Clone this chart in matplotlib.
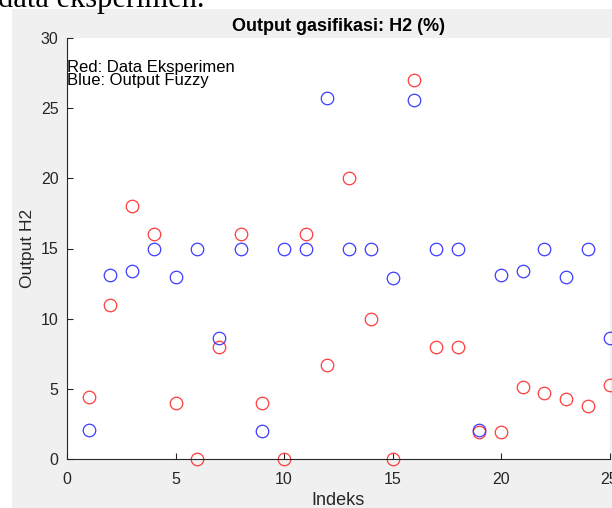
import numpy as np
import matplotlib
matplotlib.use('Agg')
import matplotlib.pyplot as plt
from matplotlib.patches import Rectangle

# data
indeks = list(range(1, 26))
h2_eksperimen = [4.4, 11, 18, 16, 4, 0, 8, 16, 4, 0, 16, 6.7, 20, 10, 0,
                 27, 8, 8, 1.9, 1.9, 5.1, 4.7, 4.3, 3.8, 5.3]
h2_fuzzy = [2.1, 13.1, 13.4, 15, 13, 15, 8.6, 15, 2.0, 15, 15, 25.7, 15, 15, 12.9,
            25.6, 15, 15, 2.1, 13.1, 13.4, 15, 13, 15, 8.6]
xticks = [0, 5, 10, 15, 20, 25]
yticks = [0, 5, 10, 15, 20, 25, 30]

W, H = 612, 508
fig = plt.figure(figsize=(W/100, H/100), dpi=100, facecolor='white')
plt.rcParams['font.family'] = ['Liberation Sans', 'DejaVu Sans']

# latar abu-abu ala MATLAB
fig.patches.append(Rectangle((12/W, 0), 1, (H-9)/H, transform=fig.transFigure,
                             facecolor='#f0f0f0', edgecolor='none', zorder=-10))
# potongan teks dokumen di atas
fig.text(-2/W, (H-7)/H, 'data eksperimen.', family='Liberation Serif', fontsize=22,
         color='black', ha='left', va='baseline', zorder=-5)

ax = fig.add_axes([67/W, (H-459)/H, (609.5-67)/W, (459-38)/H])
ax.set_zorder(1)
ax.set_facecolor('white')
ax.plot(indeks, h2_eksperimen, 'o', mfc='none', mec='#ff3c3c', ms=9, mew=0.9, clip_on=False)
ax.plot(indeks, h2_fuzzy, 'o', mfc='none', mec='#3c3cff', ms=9, mew=0.9, clip_on=False)

ax.set_xlim(0, 25)
ax.set_ylim(0, 30)
ax.set_xticks(xticks)
ax.set_yticks(yticks)
for s in ['top', 'right']:
    ax.spines[s].set_visible(False)
for s in ['left', 'bottom']:
    ax.spines[s].set_color('#262626')
    ax.spines[s].set_linewidth(0.8)
ax.tick_params(direction='in', length=4, width=0.8, colors='#262626', labelsize=11.5)
ax.tick_params(axis='x', pad=9)
ax.tick_params(axis='y', pad=6)

ax.text(0, 27.45, 'Red: Data Eksperimen\nBlue: Output Fuzzy', fontsize=12, color='black',
        ha='left', va='center', linespacing=0.85)
ax.set_title('Output gasifikasi: H2 (%)', fontsize=13, fontweight='bold', color='black', pad=5)
ax.set_xlabel('Indeks', fontsize=13, color='#262626', labelpad=4)
ax.set_ylabel('Output H2', fontsize=12.5, color='#262626', labelpad=4)

fig.savefig('out.png', dpi=100, facecolor=fig.get_facecolor())
